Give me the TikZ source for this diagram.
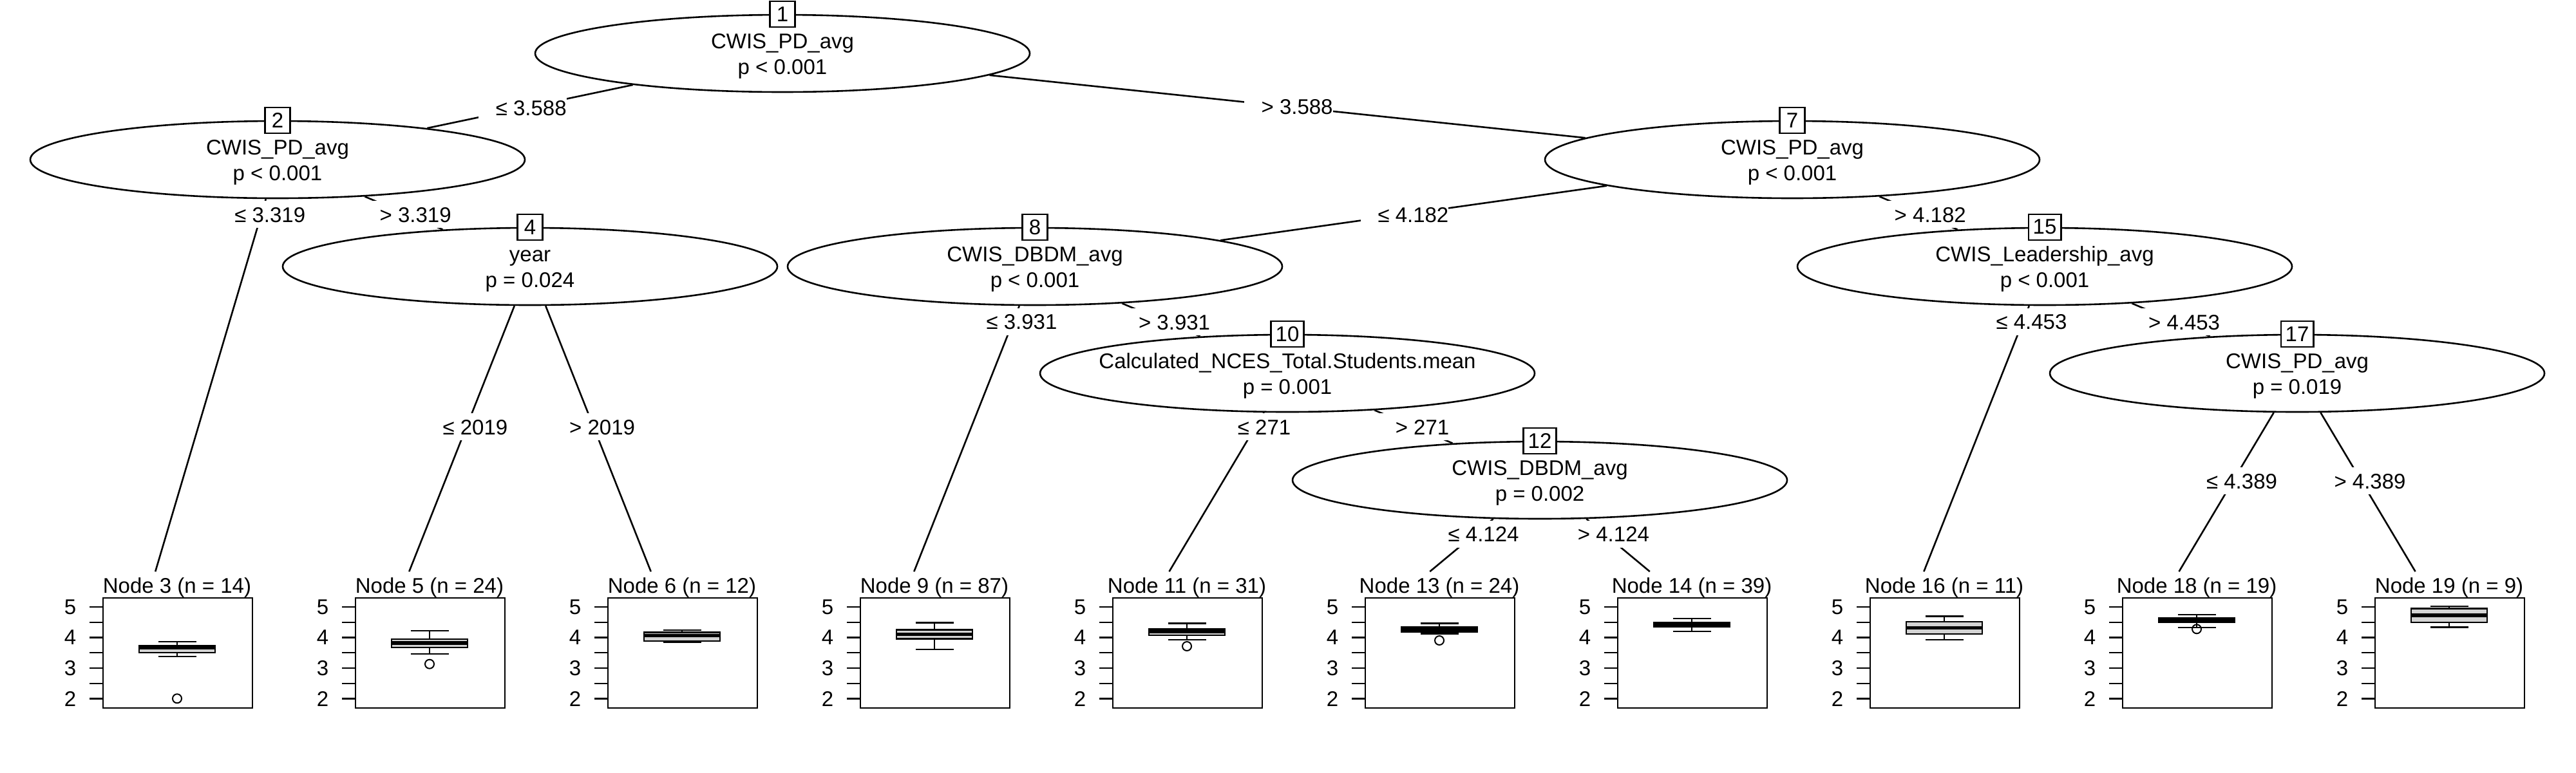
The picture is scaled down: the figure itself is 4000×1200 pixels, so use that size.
\documentclass[tikz,border=0pt]{standalone}
\usepackage{fontspec}
\setmainfont{Liberation Sans}
\usetikzlibrary{shapes.geometric,calc}
\definecolor{boxgray}{RGB}{211,211,211}
\tikzset{
  splitnode/.style={ellipse, draw, fill=white, line width=0.65pt, minimum width=192pt, minimum height=30pt, inner sep=0pt},
  idbox/.style={draw, fill=white, line width=0.6pt, minimum width=9.75pt, minimum height=10pt, inner xsep=1.75pt, inner ysep=0pt},
  vartext/.style={anchor=base, inner sep=0pt},
  conn/.style={line width=0.65pt},
  elabel/.style={fill=white, inner sep=0pt, text height=8.25pt, text depth=2.25pt},
  panelbox/.style={draw, line width=0.6pt, minimum width=58pt, minimum height=42.75pt, inner sep=0pt, anchor=north west},
  header/.style={anchor=base, inner sep=0pt},
  ticklab/.style={inner sep=0pt},
  whisk/.style={line width=0.6pt},
  boxst/.style={draw, fill=boxgray, line width=0.6pt},
  medst/.style={line width=1.4pt},
  outl/.style={line width=0.5pt},
}
% panel: #1 name, #2 left edge (px), #3 header text
\newcommand\termpanel[3]{%
  \node[panelbox] (p#1) at (#2,928) {};
  \node[header] (h#1) at (#2+116,921) {#3};
  \foreach \ty in {943,966.75,990.5,1014.25,1038,1061.75,1085.5}
    \draw[whisk] (#2-20,\ty) -- (#2,\ty);
  \foreach \ty/\tl in {943/5,990.5/4,1038/3,1085.5/2}
    \node[ticklab] at (#2-50,\ty) {\tl};
}
% boxplot: #1 left, #2 upper whisker, #3 Q3, #4 median, #5 Q1, #6 lower whisker
\newcommand\bplot[6]{%
  \draw[whisk] (#1+116,#2) -- (#1+116,#3) (#1+116,#5) -- (#1+116,#6)
               (#1+86.5,#2) -- (#1+145.5,#2) (#1+86.5,#6) -- (#1+145.5,#6);
  \filldraw[boxst] (#1+57,#3) rectangle (#1+175,#5);
  \draw[medst] (#1+57,#4) -- (#1+175,#4);
}
\newcommand\outpt[2]{\draw[outl] (#1+116,#2) circle[radius=1.75pt];}
% split node: #1 name, #2 x, #3 y, #4 id, #5 variable, #6 p-value
\newcommand\splitat[6]{%
  \node[splitnode] (#1) at (#2,#3) {};
  \node[idbox] (#1id) at (#1.north) {#4};
  \node[vartext] (#1var) at (#2,#3-8) {#5};
  \node[vartext] (#1p) at (#2,#3+32) {#6};
}
\begin{document}
\begin{tikzpicture}[x=0.25pt, y=-0.25pt, font=\fontsize{8.25pt}{10pt}\selectfont]
\useasboundingbox (0,0) rectangle (4000,1200);

% inner nodes
\splitat{n1}{1215}{83}{1}{CWIS\_PD\_avg}{p < 0.001}
\splitat{n2}{431}{248}{2}{CWIS\_PD\_avg}{p < 0.001}
\splitat{n7}{2783}{248}{7}{CWIS\_PD\_avg}{p < 0.001}
\splitat{n4}{823}{414}{4}{year}{p = 0.024}
\splitat{n8}{1607}{414}{8}{CWIS\_DBDM\_avg}{p < 0.001}
\splitat{n15}{3175}{414}{15}{CWIS\_Leadership\_avg}{p < 0.001}
\splitat{n10}{1999}{580}{10}{Calculated\_NCES\_Total.Students.mean}{p = 0.001}
\splitat{n17}{3567}{580}{17}{CWIS\_PD\_avg}{p = 0.019}
\splitat{n12}{2391}{746}{12}{CWIS\_DBDM\_avg}{p = 0.002}

% terminal targets
\coordinate (t3) at (235,909);
\coordinate (t5) at (627,909);
\coordinate (t6) at (1019,909);
\coordinate (t9) at (1411,909);
\coordinate (t11) at (1803,909);
\coordinate (t13) at (2195,909);
\coordinate (t14) at (2587,909);
\coordinate (t16) at (2979,909);
\coordinate (t18) at (3371,909);
\coordinate (t19) at (3763,909);

% inner edges
\draw[conn] (n1) -- (n2);
\draw[conn] (n1) -- (n7);
\draw[conn] (n2) -- (n4);
\draw[conn] (n7) -- (n8);
\draw[conn] (n7) -- (n15);
\draw[conn] (n8) -- (n10);
\draw[conn] (n10) -- (n12);
\draw[conn] (n15) -- (n17);

% edges to terminal nodes
\draw[conn] (n2) -- ($(n2.center)!0.96823!(t3)$);
\draw[conn] (n4) -- ($(n4.center)!0.95758!(t5)$);
\draw[conn] (n4) -- ($(n4.center)!0.95758!(t6)$);
\draw[conn] (n8) -- ($(n8.center)!0.95758!(t9)$);
\draw[conn] (n10) -- ($(n10.center)!0.93617!(t11)$);
\draw[conn] (n12) -- ($(n12.center)!0.87117!(t13)$);
\draw[conn] (n12) -- ($(n12.center)!0.87117!(t14)$);
\draw[conn] (n15) -- ($(n15.center)!0.95758!(t16)$);
\draw[conn] (n17) -- ($(n17.center)!0.93617!(t18)$);
\draw[conn] (n17) -- ($(n17.center)!0.93617!(t19)$);

% edge labels
\node[elabel] (l2) at ($(n1.center)!0.515!(n2.center)$) {\hspace*{6.75pt}≤ 3.588};
\node[elabel] (l7) at ($(n1.center)!0.501!(n7.center)$) {\hspace*{6.75pt}> 3.588};
\node[elabel] (l3) at ($(n2.center)!0.1286!(t3)$) {\hspace*{6.75pt}≤ 3.319};
\node[elabel] (l4) at ($(n2.center)!0.512!(n4.center)$) {\hspace*{6.75pt}> 3.319};
\node[elabel] (l5) at ($(n4.center)!0.503!(t5)$) {\hspace*{6.75pt}≤ 2019};
\node[elabel] (l6) at ($(n4.center)!0.503!(t6)$) {\hspace*{6.75pt}> 2019};
\node[elabel] (l8) at ($(n7.center)!0.512!(n8.center)$) {\hspace*{6.75pt}≤ 4.182};
\node[elabel] (l15) at ($(n7.center)!0.512!(n15.center)$) {\hspace*{6.75pt}> 4.182};
\node[elabel] (l9) at ($(n8.center)!0.1737!(t9)$) {\hspace*{6.75pt}≤ 3.931};
\node[elabel] (l10) at ($(n8.center)!0.518!(n10.center)$) {\hspace*{6.75pt}> 3.931};
\node[elabel] (l11) at ($(n10.center)!0.2523!(t11)$) {\hspace*{6.75pt}≤ 271};
\node[elabel] (l12) at ($(n10.center)!0.5!(n12.center)$) {\hspace*{6.75pt}> 271};
\node[elabel] (l13) at ($(n12.center)!0.515!(t13)$) {\hspace*{6.75pt}≤ 4.124};
\node[elabel] (l14) at ($(n12.center)!0.515!(t14)$) {\hspace*{6.75pt}> 4.124};
\node[elabel] (l16) at ($(n15.center)!0.1737!(t16)$) {\hspace*{6.75pt}≤ 4.453};
\node[elabel] (l17) at ($(n15.center)!0.518!(n17.center)$) {\hspace*{6.75pt}> 4.453};
\node[elabel] (l18) at ($(n17.center)!0.5076!(t18)$) {\hspace*{6.75pt}≤ 4.389};
\node[elabel] (l19) at ($(n17.center)!0.5076!(t19)$) {\hspace*{6.75pt}> 4.389};

% terminal panels
\termpanel{3}{159}{Node 3 (n = 14)}
\bplot{159}{996.7}{1003.3}{1006}{1014}{1020}
\outpt{159}{1085.3}

\termpanel{5}{551}{Node 5 (n = 24)}
\bplot{551}{980}{992.7}{999}{1006}{1016}
\outpt{551}{1031.7}

\termpanel{6}{943}{Node 6 (n = 12)}
\bplot{943}{978.7}{982.3}{987.3}{996}{997.7}

\termpanel{9}{1335}{Node 9 (n = 87)}
\bplot{1335}{967.3}{978.3}{985.3}{992.3}{1008.7}

\termpanel{11}{1727}{Node 11 (n = 31)}
\bplot{1727}{968.3}{977.3}{980.7}{986.7}{994}
\outpt{1727}{1004}

\termpanel{13}{2119}{Node 13 (n = 24)}
\bplot{2119}{968.3}{973.7}{978}{982}{984.3}
\outpt{2119}{995}

\termpanel{14}{2511}{Node 14 (n = 39)}
\bplot{2511}{961}{966.7}{970}{973.3}{980.7}

\termpanel{16}{2903}{Node 16 (n = 11)}
\bplot{2903}{957.3}{965.7}{975.3}{984.7}{994}

\termpanel{18}{3295}{Node 18 (n = 19)}
\bplot{3295}{955}{960.3}{964.3}{966.7}{975}
\outpt{3295}{977.3}

\termpanel{19}{3687}{Node 19 (n = 9)}
\bplot{3687}{942}{945.3}{956}{966.7}{974.3}
\end{tikzpicture}
\end{document}
